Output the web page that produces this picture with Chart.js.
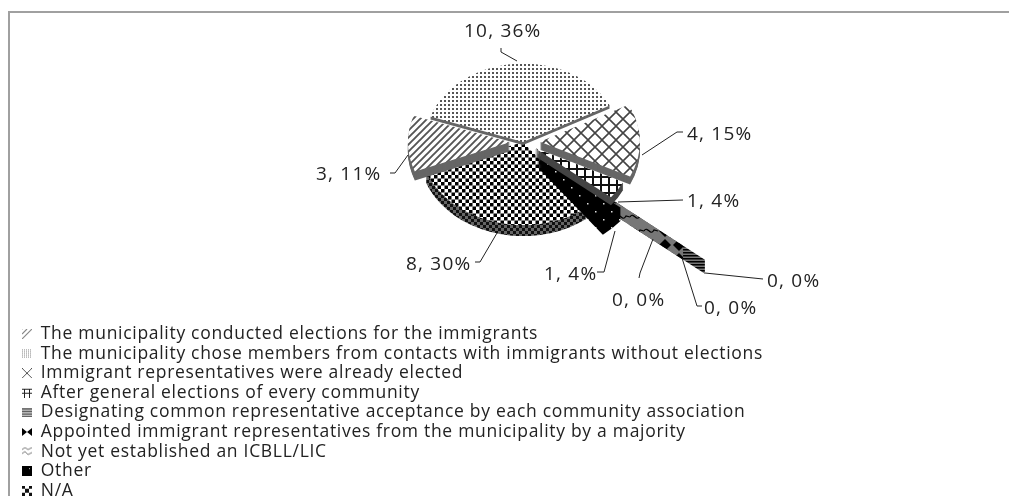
<!DOCTYPE html>
<html>
<head>
<meta charset="utf-8">
<script src="https://cdn.jsdelivr.net/npm/chart.js@4"></script>
<style>
	body { margin: 0; background: #fff; }
	canvas { display: block; }
</style>
</head>
<body>
<canvas id="chart" width="1010" height="496"></canvas>
<script>
//Chart data
var categories = [
	"The municipality conducted elections for the immigrants",
	"The municipality chose members from contacts with immigrants without elections",
	"Immigrant representatives were already elected",
	"After general elections of every community",
	"Designating common representative acceptance by each community association",
	"Appointed immigrant representatives from the municipality by a majority",
	"Not yet established an ICBLL/LIC",
	"Other",
	"N/A"
];
var counts = [3, 10, 4, 1, 0, 0, 0, 1, 8];
var percents = [11, 36, 15, 4, 0, 0, 0, 4, 30];

//Look of the tilted pie
var tilt = 0.8;
var pieRadius = 98;
var explode = [13, 0, 17, 14, 136, 108, 76, 20, 0];
var radiusScale = [1.04, 1, 1.02, 1, 1, 1, 1, 1.1, 1.06];
var depth = [9, 3, 8, 8, 14, 14, 14, 13, 11];
var drawOrder = [8, 4, 5, 6, 7, 3, 2, 0, 1];

//Label text position [x, middle y] and leader line for each slice
var labelPlace = [[316, 175], [464, 32], [687, 135], [687, 202], [767, 282], [704, 309], [612, 301], [544, 275], [406, 265]];
var leaders = [
	[[390, 173], [395, 173], [408, 155]],
	[[501, 48], [501, 52], [517, 61]],
	[[683, 132], [677, 132], [642, 155]],
	[[683, 200], [618, 202]],
	[[763, 279], [705, 273]],
	[[702, 306], [697, 306], [682, 258]],
	[[639, 278], [640, 273], [653, 239]],
	[[597, 272], [604, 272], [615, 231]],
	[[475, 262], [480, 262], [497, 233]]
];

function makeTile(w, h, bg, paint) {
	var c = document.createElement("canvas");
	c.width = w;
	c.height = h;
	var g = c.getContext("2d");
	if (bg) {
		g.fillStyle = bg;
		g.fillRect(0, 0, w, h);
	}
	paint(g);
	return c;
}

function pattern(w, h, bg, paint) {
	return document.getElementById("chart").getContext("2d").createPattern(makeTile(w, h, bg, paint), "repeat");
}

function stripes(g, size, width, color) {
	g.strokeStyle = color;
	g.lineWidth = width;
	g.beginPath();
	g.moveTo(-size, size);
	g.lineTo(size, -size);
	g.moveTo(0, size);
	g.lineTo(size, 0);
	g.moveTo(0, 2 * size);
	g.lineTo(2 * size, 0);
	g.stroke();
}

function checkers(g, size, color) {
	g.fillStyle = color;
	g.fillRect(0, 0, size / 2, size / 2);
	g.fillRect(size / 2, size / 2, size / 2, size / 2);
}

function diamonds(g) {
	g.fillStyle = "#000";
	g.beginPath();
	g.moveTo(7, 1);
	g.lineTo(13, 7);
	g.lineTo(7, 13);
	g.lineTo(1, 7);
	g.fill();
}

function squiggle(g) {
	g.strokeStyle = "#000";
	g.lineWidth = 1.2;
	g.beginPath();
	g.moveTo(0, 7);
	g.bezierCurveTo(4, 1, 6, 13, 10, 6);
	g.lineTo(14, 7);
	g.stroke();
}

var tops = [
	pattern(7, 7, "#fff", function (g) { stripes(g, 7, 1.9, "#555"); }),
	pattern(4, 4, "#fff", function (g) { g.fillStyle = "#555"; g.fillRect(0, 0, 2, 2); }),
	pattern(14, 14, "#fff", function (g) {
		g.strokeStyle = "#444";
		g.lineWidth = 1.6;
		g.beginPath();
		g.moveTo(0, 0); g.lineTo(14, 14);
		g.moveTo(14, 0); g.lineTo(0, 14);
		g.stroke();
	}),
	pattern(8, 8, "#fff", function (g) {
		g.fillStyle = "#111";
		g.fillRect(0, 0, 8, 2);
		g.fillRect(0, 0, 2, 8);
	}),
	"#666", "#666", "#666",
	pattern(16, 16, "#000", function (g) {
		g.fillStyle = "#ddd";
		g.fillRect(3, 3, 1.5, 1.5);
		g.fillRect(11, 11, 1.5, 1.5);
	}),
	pattern(7, 7, "#fff", function (g) { checkers(g, 7, "#000"); })
];
var sides = [
	"#666", "#666", "#666", "#444",
	pattern(3, 3, "#777", function (g) { g.fillStyle = "#000"; g.fillRect(0, 0, 3, 1.5); }),
	pattern(14, 14, "#777", diamonds),
	pattern(14, 14, "#777", squiggle),
	pattern(16, 16, "#000", function (g) {
		g.fillStyle = "#ddd";
		g.fillRect(3, 3, 1.5, 1.5);
		g.fillRect(11, 11, 1.5, 1.5);
	}),
	pattern(6, 6, "#666", function (g) { checkers(g, 6, "#111"); })
];

//Tiny legend keys, drawn as point style images
var swatches = [
	makeTile(10, 10, "#fff", function (g) { stripes(g, 5, 1.2, "#888"); }),
	makeTile(10, 10, "#fff", function (g) {
		g.fillStyle = "#888";
		for (var x = 0; x < 10; x += 2) for (var y = 0; y < 10; y += 2) g.fillRect(x, y, 1, 1);
	}),
	makeTile(10, 10, null, function (g) {
		g.strokeStyle = "#555";
		g.beginPath();
		g.moveTo(0, 0); g.lineTo(10, 10);
		g.moveTo(10, 0); g.lineTo(0, 10);
		g.stroke();
	}),
	makeTile(10, 10, null, function (g) {
		g.fillStyle = "#222";
		g.fillRect(0, 1, 10, 1);
		g.fillRect(0, 5, 10, 1);
		g.fillRect(2, 1, 1, 9);
		g.fillRect(7, 1, 1, 9);
	}),
	makeTile(10, 10, null, function (g) {
		g.fillStyle = "#222";
		for (var y = 1; y < 10; y += 2.6) g.fillRect(0, y, 10, 1.3);
	}),
	makeTile(10, 10, null, function (g) {
		g.fillStyle = "#000";
		g.beginPath();
		g.moveTo(0, 1); g.lineTo(5, 5); g.lineTo(0, 9);
		g.moveTo(10, 1); g.lineTo(5, 5); g.lineTo(10, 9);
		g.fill();
	}),
	makeTile(10, 10, null, function (g) {
		g.strokeStyle = "#777";
		g.beginPath();
		g.moveTo(0, 3); g.lineTo(3, 1); g.lineTo(6, 3); g.lineTo(10, 1);
		g.moveTo(0, 7); g.lineTo(3, 5); g.lineTo(6, 8); g.lineTo(10, 6);
		g.stroke();
	}),
	makeTile(10, 10, "#000", function (g) { g.fillStyle = "#ccc"; g.fillRect(7, 2, 1, 1); }),
	makeTile(10, 10, "#fff", function (g) {
		g.fillStyle = "#111";
		g.fillRect(0, 0, 3, 3); g.fillRect(7, 0, 3, 3);
		g.fillRect(0, 7, 3, 3); g.fillRect(7, 7, 3, 3);
		g.fillRect(3, 3, 4, 4);
	})
];

//Fills one slice by its arc geometry, with the path squashed but the pattern left upright
function slicePath(ctx, arc, i, down) {
	var mid = (arc.startAngle + arc.endAngle) / 2;
	var r = arc.outerRadius * radiusScale[i];
	ctx.save();
	ctx.translate(arc.x, arc.y + down);
	ctx.scale(1, tilt);
	ctx.translate(Math.cos(mid) * explode[i], Math.sin(mid) * explode[i]);
	ctx.beginPath();
	ctx.moveTo(0, 0);
	ctx.arc(0, 0, r, arc.startAngle, arc.endAngle);
	ctx.closePath();
	ctx.restore();
}

function drawEdgeOn(ctx, arc, i) {
	var a = arc.startAngle;
	var r = arc.outerRadius * radiusScale[i];
	var x0 = arc.x + Math.cos(a) * explode[i], y0 = arc.y + Math.sin(a) * tilt * explode[i];
	var x1 = arc.x + Math.cos(a) * (explode[i] + r), y1 = arc.y + Math.sin(a) * tilt * (explode[i] + r);
	ctx.beginPath();
	ctx.moveTo(x0, y0);
	ctx.lineTo(x1, y1);
	ctx.lineTo(x1, y1 + depth[i]);
	ctx.lineTo(x0, y0 + depth[i]);
	ctx.closePath();
	ctx.fillStyle = sides[i];
	ctx.fill();
}

var tiltedPie = {
	id: "tiltedPie",
	beforeLayout: function (chart) {
		//Stretched text like the reference, legend widths are measured with this
		chart.ctx.letterSpacing = "0.7px";
	},
	afterLayout: function (chart) {
		//Legend sits under the pie, outside of the chart area
		var legend = chart.legend;
		legend.left = 19.9;
		legend.top = 323.1;
		legend.right = 1000;
		legend.bottom = 530;
	},
	beforeDatasetDraw: function (chart, args) {
		var ctx = chart.ctx;
		var arcs = args.meta.data;
		for (var n = 0; n < drawOrder.length; n++) {
			var i = drawOrder[n];
			var arc = arcs[i];
			if (counts[i] === 0) {
				drawEdgeOn(ctx, arc, i);
				continue;
			}
			ctx.fillStyle = sides[i];
			for (var d = depth[i]; d > 0; d--) {
				slicePath(ctx, arc, i, d);
				ctx.fill();
			}
			ctx.fillStyle = tops[i];
			slicePath(ctx, arc, i, 0);
			ctx.fill();
		}
		return false;
	},
	afterDraw: function (chart) {
		var ctx = chart.ctx;
		ctx.save();
		//Frame, only top and left are in the picture
		ctx.strokeStyle = "#a0a0a0";
		ctx.lineWidth = 2;
		ctx.beginPath();
		ctx.moveTo(9, 496);
		ctx.lineTo(9, 12);
		ctx.lineTo(1009, 12);
		ctx.stroke();

		ctx.strokeStyle = "#222";
		ctx.lineWidth = 1;
		ctx.fillStyle = "#222";
		ctx.font = "19px 'Open Sans'";
		ctx.letterSpacing = "1.2px";
		ctx.textAlign = "left";
		ctx.textBaseline = "middle";
		for (var i = 0; i < counts.length; i++) {
			ctx.beginPath();
			for (var k = 0; k < leaders[i].length; k++) {
				ctx.lineTo(leaders[i][k][0], leaders[i][k][1]);
			}
			ctx.stroke();
			ctx.fillText(counts[i] + ", " + percents[i] + "%", labelPlace[i][0], labelPlace[i][1]);
		}
		ctx.restore();
	}
};

var chart = new Chart(document.getElementById("chart"), {
	type: "pie",
	data: {
		labels: categories,
		datasets: [{
			data: counts,
			backgroundColor: tops,
			borderWidth: 0
		}]
	},
	options: {
		responsive: false,
		animation: false,
		events: [],
		rotation: 249,
		radius: pieRadius,
		layout: { padding: { left: 36, top: 0, right: 0, bottom: 212 } },
		plugins: {
			tooltip: { enabled: false },
			legend: {
				position: "chartArea",
				align: "start",
				labels: {
					font: { family: "'Open Sans'", size: 17.5 },
					color: "#222",
					boxWidth: 10,
					boxHeight: 10,
					padding: 2.1,
					usePointStyle: true,
					generateLabels: function (chart) {
						var items = Chart.controllers.doughnut.overrides.plugins.legend.labels.generateLabels(chart);
						items.forEach(function (item, i) { item.pointStyle = swatches[i]; });
						return items;
					}
				}
			}
		}
	},
	plugins: [tiltedPie]
});
</script>
</body>
</html>
